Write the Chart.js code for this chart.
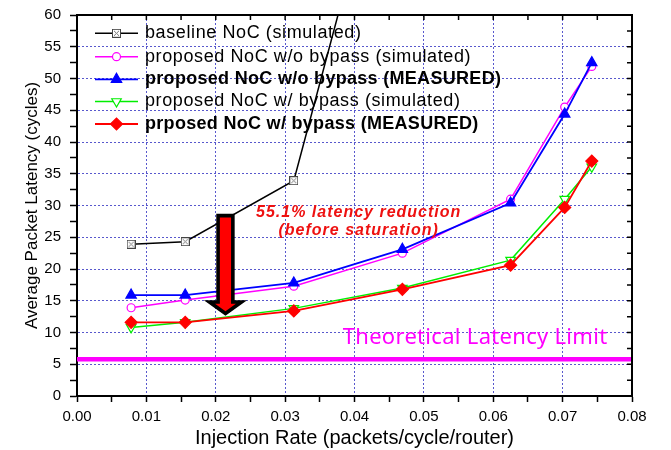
<!DOCTYPE html>
<html>
<head>
<meta charset="utf-8">
<title>NoC latency</title>
<script src="https://cdn.jsdelivr.net/npm/chart.js@4.4.1/dist/chart.umd.min.js"></script>
<style>
  body { margin: 0; background: #fff; }
  canvas { display: block; }
</style>
</head>
<body>
<canvas id="latencyChart" width="671" height="450"></canvas>
<script>
// injection rate (packets/cycle/router)
const rates = [0.0078, 0.0156, 0.03125, 0.0469, 0.0625, 0.0703, 0.0742];
const baselineRates = [0.0078, 0.0156, 0.03125, 0.0469];

// average packet latency (cycles)
const baselineSim = [23.9, 24.3, 33.9, 98];
const noBypassSim = [13.9, 15.1, 17.3, 22.5, 31.0, 45.5, 51.9];
const noBypassMeas = [15.9, 15.9, 17.8, 23.1, 30.4, 44.4, 52.5];
const bypassSim = [10.8, 11.6, 13.8, 17.0, 21.4, 31.0, 36.1];
const bypassMeas = [11.6, 11.6, 13.4, 16.8, 20.6, 29.7, 37.0];

const seriesNames = [
    'baseline NoC (simulated)',
    'proposed NoC w/o bypass (simulated)',
    'proposed NoC w/o bypass (MEASURED)',
    'proposed NoC w/ bypass (simulated)',
    'prposed NoC w/ bypass (MEASURED)'
];

const latencyLimit = 5.8;
const limitLabel = 'Theoretical Latency Limit';
const reductionText = ['55.1% latency reduction', '(before saturation)'];

// arrow: x position, top of shaft, start of head, tip (data units)
const arrowX = 0.0214;
const arrowTop = 28.4;
const arrowNeck = 14.8;
const arrowTip = 13.0;

const FONT = '"Liberation Sans", Arial, sans-serif';
Chart.defaults.font.family = FONT;
Chart.defaults.color = '#000';

function toPoints(xs, ys) {
    return ys.map((v, i) => ({ x: xs[i], y: v }));
}

// boxed-x marker for the baseline series
const boxX = document.createElement('canvas');
boxX.width = 9; boxX.height = 9;
(function () {
    const c = boxX.getContext('2d');
    c.fillStyle = '#fff';
    c.fillRect(0.5, 0.5, 8, 8);
    c.strokeStyle = '#444';
    c.lineWidth = 1;
    c.strokeRect(0.5, 0.5, 8, 8);
    c.strokeStyle = '#777';
    c.beginPath();
    c.moveTo(2, 2); c.lineTo(7, 7);
    c.moveTo(7, 2); c.lineTo(2, 7);
    c.stroke();
})();

const styles = [
    { color: '#000000', pointStyle: boxX, radius: 4.5, fill: '#fff', width: 1.5, rotation: 0 },
    { color: '#ff00ff', pointStyle: 'circle', radius: 4, fill: '#fff', width: 1.5, rotation: 0 },
    { color: '#0000ff', pointStyle: 'triangle', radius: 6, fill: '#0000ff', width: 1.8, rotation: 0 },
    { color: '#00ee00', pointStyle: 'triangle', radius: 5.5, fill: '#fff', width: 1.5, rotation: 180 },
    { color: '#ff0000', pointStyle: 'rectRot', radius: 6, fill: '#ff0000', width: 1.8, rotation: 0 }
];

function series(i, points, order) {
    const s = styles[i];
    return {
        label: seriesNames[i],
        data: points,
        borderColor: s.color,
        borderWidth: s.width,
        backgroundColor: s.fill,
        pointStyle: s.pointStyle,
        pointRadius: s.radius,
        pointRotation: s.rotation,
        pointBorderColor: s.color,
        pointBackgroundColor: s.fill,
        pointBorderWidth: 1.2,
        tension: 0,
        order: order
    };
}

const extras = {
    id: 'extras',
    afterDatasetsDraw(chart) {
        const { ctx, scales: { x, y } } = chart;
        ctx.save();
        // red arrow
        const ax = x.getPixelForValue(arrowX);
        const top = y.getPixelForValue(arrowTop);
        const neck = y.getPixelForValue(arrowNeck);
        const tip = y.getPixelForValue(arrowTip);
        ctx.beginPath();
        ctx.moveTo(ax - 7.4, top);
        ctx.lineTo(ax + 7.4, top);
        ctx.lineTo(ax + 7.4, neck);
        ctx.lineTo(ax + 16, neck);
        ctx.lineTo(ax, tip);
        ctx.lineTo(ax - 16, neck);
        ctx.lineTo(ax - 7.4, neck);
        ctx.closePath();
        ctx.fillStyle = '#ff0000';
        ctx.fill();
        ctx.lineWidth = 3.6;
        ctx.lineJoin = 'miter';
        ctx.strokeStyle = '#000';
        ctx.stroke();

        // reduction note
        ctx.fillStyle = '#ee1111';
        ctx.font = 'italic bold 16px ' + FONT;
        ctx.textAlign = 'center';
        ctx.textBaseline = 'alphabetic';
        ctx.letterSpacing = '1px';
        ctx.fillText(reductionText[0], x.getPixelForValue(0.0406), y.getPixelForValue(28.2));
        ctx.fillText(reductionText[1], x.getPixelForValue(0.0406), y.getPixelForValue(25.3));

        // limit label
        ctx.fillStyle = '#ff00ff';
        ctx.font = '22px "Noto Sans", sans-serif';
        ctx.textAlign = 'left';
        ctx.letterSpacing = '0.3px';
        ctx.fillText(limitLabel, x.getPixelForValue(0.0383), y.getPixelForValue(8.15));
        ctx.restore();
    },
    afterDraw(chart) {
        const { ctx, chartArea: a, scales: { x, y } } = chart;
        ctx.save();
        // top and right frame with inward ticks
        ctx.strokeStyle = '#000';
        ctx.lineWidth = 2;
        ctx.beginPath();
        ctx.moveTo(a.left - 1, a.top);
        ctx.lineTo(a.right, a.top);
        ctx.lineTo(a.right, a.bottom + 1);
        ctx.stroke();
        ctx.lineWidth = 1.5;
        ctx.beginPath();
        x.ticks.forEach(t => {
            const px = x.getPixelForValue(t.value);
            ctx.moveTo(px, a.top);
            ctx.lineTo(px, a.top + 5);
        });
        y.ticks.forEach(t => {
            const py = y.getPixelForValue(t.value);
            ctx.moveTo(a.right, py);
            ctx.lineTo(a.right - 5, py);
        });
        ctx.stroke();

        // legend, drawn inside the plot area
        const rowY = [33.3, 56.7, 79.3, 101.5, 124];
        seriesNames.forEach((name, i) => {
            const s = styles[i];
            const ry = rowY[i];
            ctx.strokeStyle = s.color;
            ctx.lineWidth = s.width;
            ctx.beginPath();
            ctx.moveTo(95, ry);
            ctx.lineTo(138, ry);
            ctx.stroke();
            ctx.fillStyle = s.fill;
            ctx.lineWidth = 1.2;
            Chart.helpers.drawPoint(ctx, {
                pointStyle: s.pointStyle, radius: s.radius, rotation: s.rotation, borderWidth: 1.2
            }, 116.5, ry);
            const bold = name.indexOf('MEASURED') >= 0;
            ctx.fillStyle = '#000';
            ctx.font = (bold ? 'bold ' : '') + '18px ' + FONT;
            ctx.letterSpacing = bold ? '0.3px' : '0.6px';
            ctx.textAlign = 'left';
            ctx.textBaseline = 'middle';
            ctx.fillText(name, 145, ry);
        });
        ctx.restore();
    }
};

const ctx = document.getElementById('latencyChart').getContext('2d');

const latencyChart = new Chart(ctx, {
    type: 'line',
    data: {
        datasets: [
            series(0, toPoints(baselineRates, baselineSim), 4),
            series(1, toPoints(rates, noBypassSim), 3),
            series(2, toPoints(rates, noBypassMeas), 2),
            series(3, toPoints(rates, bypassSim), 1),
            series(4, toPoints(rates, bypassMeas), 0),
            {
                label: limitLabel,
                data: [{ x: 0, y: latencyLimit }, { x: 0.08, y: latencyLimit }],
                borderColor: '#ff00ff',
                borderWidth: 4.5,
                pointRadius: 0,
                order: 5
            }
        ]
    },
    options: {
        responsive: false,
        animation: false,
        devicePixelRatio: 1,
        layout: { padding: { left: 0, right: 39, top: 15, bottom: 0 } },
        plugins: {
            legend: { display: false },
            tooltip: { enabled: false }
        },
        scales: {
            x: {
                type: 'linear',
                min: 0,
                max: 0.08,
                afterFit: s => { s.height = 54; },
                ticks: {
                    stepSize: 0.005,
                    maxTicksLimit: 100,
                    autoSkip: false,
                    maxRotation: 0,
                    padding: 6,
                    font: { size: 15 },
                    callback: (v, i) => (i % 2 === 0 ? v.toFixed(2) : '')
                },
                grid: {
                    color: c => (c.index % 2 === 0 ? 'rgba(70,70,200,0.9)' : 'rgba(0,0,0,0)'),
                    lineWidth: 1,
                    tickColor: '#000',
                    tickLength: 6,
                    tickWidth: 1.5,
                    tickBorderDash: []
                },
                border: { color: '#000', width: 2, dash: [2, 2] },
                title: {
                    display: true,
                    text: 'Injection Rate (packets/cycle/router)',
                    font: { size: 20 },
                    padding: { top: 0, bottom: 0 }
                }
            },
            y: {
                min: 0,
                max: 60,
                afterFit: s => { s.width = 77; s.paddingTop = 0; s.paddingBottom = 0; },
                ticks: {
                    stepSize: 2.5,
                    maxTicksLimit: 100,
                    autoSkip: false,
                    padding: 9,
                    font: { size: 15 },
                    callback: v => (v % 5 === 0 ? v : '')
                },
                grid: {
                    color: c => (c.tick && c.tick.value % 5 === 0 ? 'rgba(70,70,200,0.9)' : 'rgba(0,0,0,0)'),
                    lineWidth: 1,
                    tickColor: '#000',
                    tickLength: 7,
                    tickWidth: 1.5,
                    tickBorderDash: []
                },
                border: { color: '#000', width: 2, dash: [2, 2] },
                title: {
                    display: true,
                    text: 'Average Packet Latency (cycles)',
                    font: { size: 17 },
                    padding: { top: 22, bottom: 0 }
                }
            }
        }
    },
    plugins: [extras]
});
</script>
</body>
</html>
